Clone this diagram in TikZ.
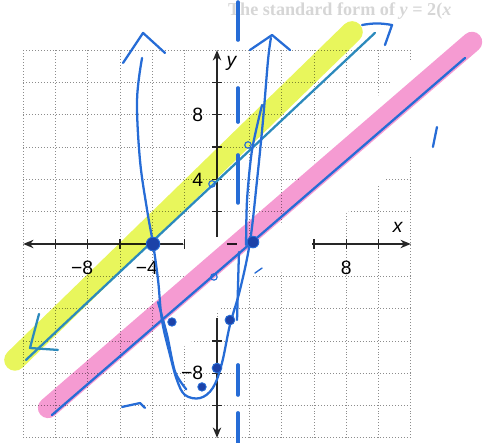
\documentclass[tikz,border=0pt]{standalone}
\usepackage{fontspec}
\setmainfont{Liberation Sans}
\newfontfamily\bookfont{Liberation Serif}
\usepackage{tikz}
\usetikzlibrary{arrows.meta}
\definecolor{hlyellow}{RGB}{232,246,92}
\definecolor{hlpink}{RGB}{245,155,210}
\definecolor{penblue}{RGB}{38,108,214}
\definecolor{penteal}{RGB}{44,138,188}
\definecolor{pendark}{RGB}{28,66,168}

\begin{document}
\begin{tikzpicture}[x=.5cm,y=.5cm,
  font=\fontsize{17}{20}\selectfont,
  gridline/.style={draw=black!45,line width=.6pt,dotted},
  axis/.style={draw=black!85,line width=1.3pt},
  axisarrow/.style={axis,-{Stealth[length=3.2mm,width=2.6mm]}},
  tick/.style={draw=black!85,line width=1.1pt},
  lab/.style={inner sep=0pt},
  marker/.style={line width=19pt,line cap=round,blend mode=multiply},
  pen/.style={draw=penblue,line width=2pt,line cap=round,line join=round},
  dot/.style={fill=pendark,draw=penblue,line width=.8pt},
  ring/.style={draw=penblue,line width=1pt,fill=none}]

\path[use as bounding box] (-13.437,-12.322) rectangle (16.904,15.108);

\node[text=black!16,font=\fontsize{16}{18}\selectfont\bookfont\bfseries] (bleed) at (7.6,14.4)
  {The standard form of \textit{y} = 2(\textit{x}};

\foreach \k in {-12,-10,...,12}{
  \draw[gridline] (\k,-12)--(\k,12);
  \draw[gridline] (-12,\k)--(12,\k);
}

% erased part of the page
\fill[white] (-1.9,.37)--(2.04,.37)--(4.09,1.36)--(5.02,3.84)--(6.75,5.82)--(8.61,7.80)
  --(10.65,9.85)--(12.14,11.52)--(12.3,11.52)--(12.3,5.45)--(11.95,5.45)--(10.34,3.96)
  --(8.11,1.98)--(5.88,.25)--(5.88,-1.75)--(2.1,-1.75)--(2.1,-2.3)--(.31,-3.78)
  --(-1.24,-5.82)--(-3.84,-7.55)--(-3.84,-3.47)--(-2.04,-2.04)--(-2.1,-.15)--cycle;

\draw[axisarrow] (-2.1,0)--(-12,0);
\draw[axis] (.6,0)--(1.25,0);
\draw[axisarrow] (5.9,0)--(12,0);
\draw[axisarrow] (0,.43)--(0,12);
\draw[axisarrow] (0,-4.6)--(0,-12);
\foreach \k in {-10,-8,...,-2,6,8,10} \draw[tick] (\k,-.3)--(\k,.3);
\foreach \k in {2,4,...,10,-6,-8,-10} \draw[tick] (-.3,\k)--(.3,\k);

\node[lab] (xm8) at (-8,-1.45) {\llap{−}8};
\node[lab] (xm4) at (-4,-1.45) {\llap{−}4};
\node[lab] (xp8) at (8,-1.5) {8};
\node[lab,anchor=east] (yp8) at (-.85,8) {8};
\node[lab,anchor=east] (yp4) at (-.85,4) {4};
\node[lab,anchor=east] (ym8) at (-.85,-8) {−8};
\node[lab] (xname) at (11.21,1.05) {\textit{x}};
\node[lab] (yname) at (.93,11.21) {\textit{y}};

\draw[marker,hlyellow] (-12.51,-7.18)--(8.36,13.13);
\draw[marker,hlpink,line width=18pt] (-10.46,-10.15)--(15.79,12.51);
\draw[pen,draw=penteal] (-11.83,-7.18)--(9.78,13.07);
\draw[pen] (-10.22,-10.59)--(15.36,11.52);
\draw[pen,draw=penteal] (-11.02,-4.33)--(-11.58,-6.44)--(-9.85,-6.56);
\draw[pen] (8.98,13.56) to[bend left=10] (10.84,13.56)--(10.40,12.32);

\draw[pen] plot[smooth,tension=.6] coordinates {(-4.64,11.52) (-4.95,8.92) (-4.77,5.20)
  (-4.33,2.11) (-3.96,0) (-3.65,-2.23) (-3.41,-4.71) (-2.91,-6.87) (-2.48,-8.42)
  (-1.98,-9.35) (-1.05,-9.54) (-.25,-8.9) (.3,-7.4) (.80,-5.02) (1.42,-2.85) (2.04,.12)
  (2.48,3.96) (2.85,7.68) (3.16,11.39) (3.34,12.76)};
\draw[pen] plot[smooth] coordinates {(-3.65,-3.6) (-3.1,-5.6) (-2.6,-7.9) (-1.9,-9.0)};
\draw[pen] plot[smooth] coordinates {(2.79,8.61) (2.17,5.82) (1.86,2.72) (1.80,-.06)};
\draw[pen] (1.36,-.5)--(1.24,-4.71);
\draw[pen] (-5.82,11.21)--(-4.58,13.07)--(-3.22,11.83);
\draw[pen] (2.04,12.01)--(3.41,12.94)--(4.52,12.01);

\foreach \a/\b in {14.98/12.63,9.66/7.55,5.51/2.54,-7.49/-9.35,-10.46/-12.32}
  \draw[pen,line width=3.2pt] (1.3,\a)--(1.3,\b);
\draw[pen] (13.62,7.24)--(13.37,6.01);
\draw[pen] (-5.88,-10.09)--(-4.77,-9.85)--(-4.46,-10.15);
\draw[pen,line width=1.2pt] (2.35,-1.80)--(2.79,-1.49);

\draw[dot] (-3.96,0) circle (.42);
\draw[dot] (2.23,.12) circle (.36);
\draw[dot] (-2.79,-4.83) circle (.26);
\draw[dot] (.80,-4.71) circle (.3);
\draw[dot] (0,-7.68) circle (.3);
\draw[dot] (-.93,-8.85) circle (.26);
\draw[ring] (-.31,3.72) circle (.2);
\draw[ring] (1.92,6.13) circle (.2);
\draw[ring] (-.19,-2.04) circle (.2);

\end{tikzpicture}
\end{document}
